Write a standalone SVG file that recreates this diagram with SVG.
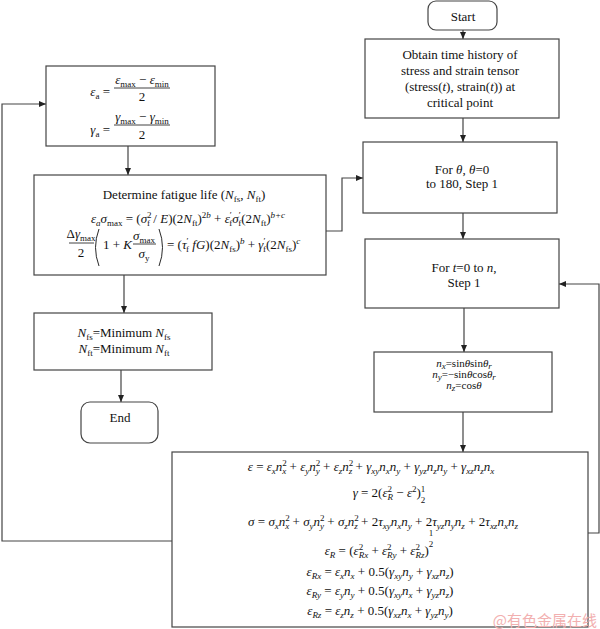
<svg xmlns="http://www.w3.org/2000/svg" width="600" height="629" viewBox="0 0 600 629">
<style>
text{font-family:"Liberation Serif","DejaVu Serif","Noto Serif",serif;font-size:13px;fill:#111}
.n{font-size:11px}
.i{font-style:italic}
.s{font-size:9px}
.box{fill:#fff;stroke:#444;stroke-width:1.2}
.ln{fill:none;stroke:#444;stroke-width:1.2}
.bar{stroke:#111;stroke-width:0.8}
.pa{fill:none;stroke:#111;stroke-width:0.9}
text.wm{font-family:"Noto Sans CJK SC",sans-serif;font-size:15px;fill:#f2b0b0}
</style>
<defs>
<marker id="ah" markerWidth="7" markerHeight="6" refX="7" refY="3" orient="auto" markerUnits="userSpaceOnUse">
<path d="M0,0 L7,3 L0,6 z" fill="#222"/>
</marker>
</defs>
<rect width="600" height="629" fill="#fff"/>

<g id="connectors">
<line class="ln" x1="463" y1="30" x2="463" y2="39" marker-end="url(#ah)"/>
<line class="ln" x1="463" y1="118" x2="463" y2="142" marker-end="url(#ah)"/>
<line class="ln" x1="463" y1="213" x2="463" y2="239" marker-end="url(#ah)"/>
<line class="ln" x1="464" y1="308" x2="464" y2="352" marker-end="url(#ah)"/>
<line class="ln" x1="463" y1="412" x2="463" y2="452" marker-end="url(#ah)"/>
<polyline class="ln" points="588,533 599,533 599,284 559,284" marker-end="url(#ah)"/>
<line class="ln" x1="128" y1="146" x2="128" y2="175" marker-end="url(#ah)"/>
<polyline class="ln" points="326,231 342,231 342,178 363,178" marker-end="url(#ah)"/>
<line class="ln" x1="124" y1="275" x2="124" y2="313" marker-end="url(#ah)"/>
<line class="ln" x1="121" y1="370" x2="121" y2="402" marker-end="url(#ah)"/>
<polyline class="ln" points="172,541 2,541 2,104 46,104" marker-end="url(#ah)"/>
</g>

<g id="start">
<rect class="box" x="428" y="1" width="69" height="29" rx="8"/>
<text font-family="Liberation Serif, serif" x="463" y="21" text-anchor="middle">Start</text>
</g>

<g id="obtain">
<rect class="box" x="365" y="39" width="194" height="79"/>
<text x="460" y="59" text-anchor="middle">Obtain time history of</text>
<text x="460" y="75" text-anchor="middle">stress and strain tensor</text>
<text x="460" y="91" text-anchor="middle">(stress(<tspan class="i">t</tspan>), strain(<tspan class="i">t</tspan>)) at</text>
<text x="460" y="107" text-anchor="middle">critical point</text>
</g>

<g id="for-theta">
<rect class="box" x="363" y="142" width="194" height="71"/>
<text x="462" y="174" text-anchor="middle">For <tspan class="i">θ</tspan>, <tspan class="i">θ</tspan>=0</text>
<text x="462" y="188" text-anchor="middle">to 180, Step 1</text>
</g>

<g id="for-t">
<rect class="box" x="365" y="239" width="194" height="69"/>
<text x="464" y="272" text-anchor="middle">For <tspan class="i">t</tspan>=0 to <tspan class="i">n</tspan>,</text>
<text x="464" y="287" text-anchor="middle">Step 1</text>
</g>

<g id="normals">
<rect class="box" x="374" y="352" width="178" height="60"/>
<text class="n" x="464" y="367" text-anchor="middle"><tspan class="i">n</tspan><tspan class="s i" dy="2">x</tspan><tspan dy="-2">=sin</tspan><tspan class="i">θ</tspan><tspan>sin</tspan><tspan class="i">θ</tspan><tspan class="s i" dy="2">r</tspan></text>
<text class="n" x="464" y="378" text-anchor="middle"><tspan class="i">n</tspan><tspan class="s i" dy="2">y</tspan><tspan dy="-2">=−sin</tspan><tspan class="i">θ</tspan><tspan>cos</tspan><tspan class="i">θ</tspan><tspan class="s i" dy="2">r</tspan></text>
<text class="n" x="464" y="389" text-anchor="middle"><tspan class="i">n</tspan><tspan class="s i" dy="2">z</tspan><tspan dy="-2">=cos</tspan><tspan class="i">θ</tspan></text>
</g>

<g id="strain-eqs">
<rect class="box" x="172" y="452" width="416" height="175"/>
<text x="371" y="471" text-anchor="middle"><tspan class="i">ε</tspan><tspan> = </tspan><tspan class="i">ε</tspan><tspan class="s i" dy="3">x</tspan><tspan class="i" dy="-3">n</tspan><tspan class="s" dy="-5">2</tspan><tspan class="s i" dx="-4.5" dy="8">x</tspan><tspan dy="-3"> + </tspan><tspan class="i">ε</tspan><tspan class="s i" dy="3">y</tspan><tspan class="i" dy="-3">n</tspan><tspan class="s" dy="-5">2</tspan><tspan class="s i" dx="-4.5" dy="8">y</tspan><tspan dy="-3"> + </tspan><tspan class="i">ε</tspan><tspan class="s i" dy="3">z</tspan><tspan class="i" dy="-3">n</tspan><tspan class="s" dy="-5">2</tspan><tspan class="s i" dx="-4.5" dy="8">z</tspan><tspan dy="-3"> + </tspan><tspan class="i">γ</tspan><tspan class="s i" dy="3">xy</tspan><tspan class="i" dy="-3">n</tspan><tspan class="s i" dy="3">x</tspan><tspan class="i" dy="-3">n</tspan><tspan class="s i" dy="3">y</tspan><tspan dy="-3"> + </tspan><tspan class="i">γ</tspan><tspan class="s i" dy="3">yz</tspan><tspan class="i" dy="-3">n</tspan><tspan class="s i" dy="3">z</tspan><tspan class="i" dy="-3">n</tspan><tspan class="s i" dy="3">y</tspan><tspan dy="-3"> + </tspan><tspan class="i">γ</tspan><tspan class="s i" dy="3">xz</tspan><tspan class="i" dy="-3">n</tspan><tspan class="s i" dy="3">z</tspan><tspan class="i" dy="-3">n</tspan><tspan class="s i" dy="3">x</tspan></text>
<text x="389" y="497" text-anchor="middle"><tspan class="i">γ</tspan><tspan> = 2(</tspan><tspan class="i">ε</tspan><tspan class="s" dy="-5">2</tspan><tspan class="s i" dx="-4.5" dy="8">R</tspan><tspan dy="-3"> − </tspan><tspan class="i">ε</tspan><tspan class="s" dy="-5">2</tspan><tspan dy="5">)</tspan><tspan class="s" dy="-5">1</tspan><tspan class="s" dx="-4.5" dy="11">2</tspan></text>
<text x="383" y="526" text-anchor="middle"><tspan class="i">σ</tspan><tspan> = </tspan><tspan class="i">σ</tspan><tspan class="s i" dy="3">x</tspan><tspan class="i" dy="-3">n</tspan><tspan class="s" dy="-5">2</tspan><tspan class="s i" dx="-4.5" dy="8">x</tspan><tspan dy="-3"> + </tspan><tspan class="i">σ</tspan><tspan class="s i" dy="3">y</tspan><tspan class="i" dy="-3">n</tspan><tspan class="s" dy="-5">2</tspan><tspan class="s i" dx="-4.5" dy="8">y</tspan><tspan dy="-3"> + </tspan><tspan class="i">σ</tspan><tspan class="s i" dy="3">z</tspan><tspan class="i" dy="-3">n</tspan><tspan class="s" dy="-5">2</tspan><tspan class="s i" dx="-4.5" dy="8">z</tspan><tspan dy="-3"> + 2</tspan><tspan class="i">τ</tspan><tspan class="s i" dy="3">xy</tspan><tspan class="i" dy="-3">n</tspan><tspan class="s i" dy="3">x</tspan><tspan class="i" dy="-3">n</tspan><tspan class="s i" dy="3">y</tspan><tspan dy="-3"> + 2</tspan><tspan class="i">τ</tspan><tspan class="s i" dy="3">yz</tspan><tspan class="i" dy="-3">n</tspan><tspan class="s i" dy="3">y</tspan><tspan class="i" dy="-3">n</tspan><tspan class="s i" dy="3">z</tspan><tspan dy="-3"> + 2</tspan><tspan class="i">τ</tspan><tspan class="s i" dy="3">xz</tspan><tspan class="i" dy="-3">n</tspan><tspan class="s i" dy="3">x</tspan><tspan class="i" dy="-3">n</tspan><tspan class="s i" dy="3">z</tspan></text>
<text x="379" y="555" text-anchor="middle"><tspan class="i">ε</tspan><tspan class="s i" dy="3">R</tspan><tspan dy="-3"> = (</tspan><tspan class="i">ε</tspan><tspan class="s" dy="-5">2</tspan><tspan class="s i" dx="-4.5" dy="8">Rx</tspan><tspan dy="-3"> + </tspan><tspan class="i">ε</tspan><tspan class="s" dy="-5">2</tspan><tspan class="s i" dx="-4.5" dy="8">Ry</tspan><tspan dy="-3"> + </tspan><tspan class="i">ε</tspan><tspan class="s" dy="-5">2</tspan><tspan class="s i" dx="-4.5" dy="8">Rz</tspan><tspan dy="-3">)</tspan><tspan class="s" dy="-19">1</tspan><tspan class="s" dx="-4.5" dy="11">2</tspan></text>
<text x="380" y="576" text-anchor="middle"><tspan class="i">ε</tspan><tspan class="s i" dy="3">Rx</tspan><tspan dy="-3"> = </tspan><tspan class="i">ε</tspan><tspan class="s i" dy="3">x</tspan><tspan class="i" dy="-3">n</tspan><tspan class="s i" dy="3">x</tspan><tspan dy="-3"> + 0.5(</tspan><tspan class="i">γ</tspan><tspan class="s i" dy="3">xy</tspan><tspan class="i" dy="-3">n</tspan><tspan class="s i" dy="3">y</tspan><tspan dy="-3"> + </tspan><tspan class="i">γ</tspan><tspan class="s i" dy="3">xz</tspan><tspan class="i" dy="-3">n</tspan><tspan class="s i" dy="3">z</tspan><tspan dy="-3">)</tspan></text>
<text x="380" y="595" text-anchor="middle"><tspan class="i">ε</tspan><tspan class="s i" dy="3">Ry</tspan><tspan dy="-3"> = </tspan><tspan class="i">ε</tspan><tspan class="s i" dy="3">y</tspan><tspan class="i" dy="-3">n</tspan><tspan class="s i" dy="3">y</tspan><tspan dy="-3"> + 0.5(</tspan><tspan class="i">γ</tspan><tspan class="s i" dy="3">xy</tspan><tspan class="i" dy="-3">n</tspan><tspan class="s i" dy="3">x</tspan><tspan dy="-3"> + </tspan><tspan class="i">γ</tspan><tspan class="s i" dy="3">yz</tspan><tspan class="i" dy="-3">n</tspan><tspan class="s i" dy="3">z</tspan><tspan dy="-3">)</tspan></text>
<text x="380" y="615" text-anchor="middle"><tspan class="i">ε</tspan><tspan class="s i" dy="3">Rz</tspan><tspan dy="-3"> = </tspan><tspan class="i">ε</tspan><tspan class="s i" dy="3">z</tspan><tspan class="i" dy="-3">n</tspan><tspan class="s i" dy="3">z</tspan><tspan dy="-3"> + 0.5(</tspan><tspan class="i">γ</tspan><tspan class="s i" dy="3">xz</tspan><tspan class="i" dy="-3">n</tspan><tspan class="s i" dy="3">x</tspan><tspan dy="-3"> + </tspan><tspan class="i">γ</tspan><tspan class="s i" dy="3">yz</tspan><tspan class="i" dy="-3">n</tspan><tspan class="s i" dy="3">y</tspan><tspan dy="-3">)</tspan></text>
</g>

<g id="amplitudes">
<rect class="box" x="46" y="66" width="169" height="80"/>
<text x="110" y="96" text-anchor="end"><tspan class="i">ε</tspan><tspan class="s" dy="3">a</tspan><tspan dy="-3"> =</tspan></text>
<text x="142" y="84" text-anchor="middle"><tspan class="i">ε</tspan><tspan class="s" dy="3">max</tspan><tspan dy="-3"> − </tspan><tspan class="i">ε</tspan><tspan class="s" dy="3">min</tspan></text>
<line class="bar" x1="114" y1="88" x2="170" y2="88"/>
<text x="142" y="101" text-anchor="middle">2</text>
<text x="110" y="134" text-anchor="end"><tspan class="i">γ</tspan><tspan class="s" dy="3">a</tspan><tspan dy="-3"> =</tspan></text>
<text x="142" y="121" text-anchor="middle"><tspan class="i">γ</tspan><tspan class="s" dy="3">max</tspan><tspan dy="-3"> − </tspan><tspan class="i">γ</tspan><tspan class="s" dy="3">min</tspan></text>
<line class="bar" x1="114" y1="125" x2="170" y2="125"/>
<text x="142" y="139" text-anchor="middle">2</text>
</g>

<g id="fatigue-life">
<rect class="box" x="34" y="175" width="292" height="100"/>
<text x="184" y="199" text-anchor="middle">Determine fatigue life (<tspan class="i">N</tspan><tspan class="s" dy="3">fs</tspan><tspan dy="-3">, </tspan><tspan class="i">N</tspan><tspan class="s" dy="3">ft</tspan><tspan dy="-3">)</tspan></text>
<text x="188" y="223" text-anchor="middle"><tspan class="i">ε</tspan><tspan class="s i" dy="3">a</tspan><tspan class="i" dy="-3">σ</tspan><tspan class="s" dy="3">max</tspan><tspan dy="-3"> = (</tspan><tspan class="i">σ</tspan><tspan class="s" dy="-5">2</tspan><tspan class="s" dx="-4.5" dy="8">f</tspan><tspan dy="-3"> / </tspan><tspan class="i">E</tspan><tspan>)(2</tspan><tspan class="i">N</tspan><tspan class="s" dy="3">ft</tspan><tspan dy="-3">)</tspan><tspan class="s" dy="-5">2<tspan class="i">b</tspan></tspan><tspan dy="5"> + </tspan><tspan class="i">ε</tspan><tspan class="s" dy="-5">′</tspan><tspan class="s" dx="-2.5" dy="8">f</tspan><tspan class="i" dy="-3">σ</tspan><tspan class="s" dy="-5">′</tspan><tspan class="s" dx="-2.5" dy="8">f</tspan><tspan dy="-3">(2</tspan><tspan class="i">N</tspan><tspan class="s" dy="3">ft</tspan><tspan dy="-3">)</tspan><tspan class="s i" dy="-5">b+c</tspan></text>
<text x="81" y="238" text-anchor="middle">Δ<tspan class="i">γ</tspan><tspan class="s" dy="3">max</tspan></text>
<line class="bar" x1="69" y1="243" x2="94" y2="243"/>
<text x="81" y="257" text-anchor="middle">2</text>
<path class="pa" d="M99,229 Q92,247.5 99,266"/>
<text x="103" y="249">1 + <tspan class="i">K</tspan></text>
<text x="144" y="240" text-anchor="middle"><tspan class="i">σ</tspan><tspan class="s" dy="3">max</tspan></text>
<line class="bar" x1="133" y1="244" x2="156" y2="244"/>
<text x="144" y="258" text-anchor="middle"><tspan class="i">σ</tspan><tspan class="s" dy="3">y</tspan></text>
<path class="pa" d="M159,229 Q166,247.5 159,266"/>
<text x="167" y="249"><tspan>= (</tspan><tspan class="i">τ</tspan><tspan class="s" dy="-5">′</tspan><tspan class="s" dx="-2.5" dy="8">f</tspan><tspan class="i" dy="-3"> fG</tspan><tspan>)(2</tspan><tspan class="i">N</tspan><tspan class="s" dy="3">fs</tspan><tspan dy="-3">)</tspan><tspan class="s i" dy="-5">b</tspan><tspan dy="5"> + </tspan><tspan class="i">γ</tspan><tspan class="s" dy="-5">′</tspan><tspan class="s" dx="-2.5" dy="8">f</tspan><tspan dy="-3">(2</tspan><tspan class="i">N</tspan><tspan class="s" dy="3">fs</tspan><tspan dy="-3">)</tspan><tspan class="s i" dy="-5">c</tspan></text>
</g>

<g id="minimum">
<rect class="box" x="34" y="313" width="178" height="57"/>
<text x="124" y="337" text-anchor="middle"><tspan class="i">N</tspan><tspan class="s" dy="3">fs</tspan><tspan dy="-3">=Minimum </tspan><tspan class="i">N</tspan><tspan class="s" dy="3">fs</tspan></text>
<text x="124" y="353" text-anchor="middle"><tspan class="i">N</tspan><tspan class="s" dy="3">ft</tspan><tspan dy="-3">=Minimum </tspan><tspan class="i">N</tspan><tspan class="s" dy="3">ft</tspan></text>
</g>

<g id="end">
<rect class="box" x="81" y="402" width="77" height="41" rx="9"/>
<text x="120" y="422" text-anchor="middle">End</text>
</g>

<text class="wm" x="597" y="626" text-anchor="end">@有色金属在线</text>
</svg>
